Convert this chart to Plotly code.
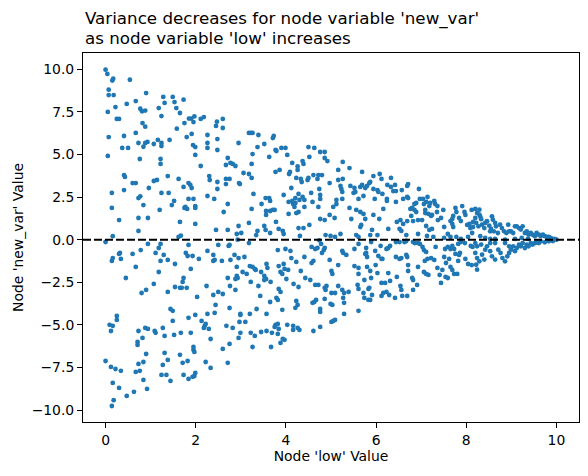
import plotly.graph_objects as go

# =========================
# DATA (grouped by region of the plot)
# =========================

# x from 0 to 2.5, upper half
low_a = [0.0,0.04,0.15,0.17,0.54,0.07,0.07,0.18,0.9,0.22,0.05,0.47,0.67,0.77,0.81,0.88,1.28,1.49,1.53,1.31,1.18,1.57,1.65,1.73,1.24,0.25,0.3,0.82,0.88,1.75,1.85,1.9,1.97,1.95,2.11,2.18,2.45,2.47,1.58,0.07,0.41,0.67,1.91,1.8,2.26,2.48,0.73,0.84,0.88,0.93,1.07,1.16,1.24,1.24,1.42,1.94,1.99,1.99,2.26,2.26,2.48,0.37,0.5,0.05,0.76,1.22,1.22,2.11,0.41,0.43,2.3,2.31,1.38,1.62,0.6,0.67,1.07,1.14,1.84,1.88,1.91,1.73,2.48,2.48,0.41,0.14,0.96,1.24,1.4,0.73,0.77,2.26,2.41,1.84,1.95,1.52,1.47,0.84,1.77,1.81,1.75,1.99,1.99,0.14,1.2,0.3,0.73,0.94,1.65,1.99,0.73,2.45,0.16,1.62,1.67]
new_var_a = [9.97,9.72,9.33,9.44,9.38,8.8,8.48,8.48,8.6,7.78,7.49,7.96,8.13,7.68,7.53,7.57,8.37,8.37,8.07,8.02,7.72,7.72,7.43,8.21,7.25,7.08,7.08,6.84,6.63,6.84,7.1,7.1,7.23,6.9,7.08,7.19,6.67,6.92,6.51,6.02,6.08,6.26,6.2,6.02,6.14,5.9,5.67,5.45,5.67,5.73,5.61,5.85,5.67,5.49,5.85,5.55,5.43,4.97,5.67,5.38,5.26,5.38,5.38,4.91,4.73,4.73,4.44,4.32,3.79,3.68,3.73,3.5,3.73,3.56,3.32,3.32,3.44,3.5,3.32,3.21,3.03,3.09,3.38,2.97,2.91,2.74,3.03,2.74,2.74,2.44,2.54,2.56,2.39,2.39,2.39,2.27,2.03,2.03,1.92,1.8,1.86,1.97,1.86,1.86,1.74,1.15,1.27,1.27,1.04,0.92,0.51,0.57,0.2,0.16,0.23]

# x from 0 to 2.5, lower half
low_b = [0.0,0.94,1.22,1.18,1.11,1.84,2.5,0.3,0.32,0.34,0.14,0.16,0.6,0.78,1.29,1.38,1.22,1.54,1.78,1.82,1.93,2.07,1.89,2.26,2.39,2.42,2.39,0.67,0.45,1.18,1.73,1.71,1.54,1.65,1.69,1.8,1.07,0.9,0.8,1.38,2.03,2.24,2.39,2.5,2.44,2.42,1.44,1.49,1.49,0.25,0.25,0.09,0.16,0.12,1.99,1.84,2.26,2.13,2.2,2.22,2.18,2.29,2.33,0.88,0.94,0.73,1.09,1.11,1.27,1.31,1.52,1.67,1.89,0.82,0.71,0.71,1.95,1.95,1.97,0.9,1.31,1.65,0.0,0.12,0.22,0.34,0.73,0.84,1.38,1.27,1.71,1.82,2.22,2.33,0.67,0.76,1.24,1.35,1.44,0.84,1.73,1.84,1.93,1.97,1.99,0.16,0.3,0.92,0.63,0.47,0.18,0.14]
new_var_b = [-0.14,-0.25,-0.25,-0.49,-0.78,-0.31,-0.31,-0.84,-0.78,-1.13,-1.25,-1.08,-0.84,-0.61,-0.9,-1.19,-1.25,-1.43,-0.78,-0.96,-0.96,-1.13,-1.72,-0.66,-0.9,-1.19,-1.25,-1.6,-2.25,-1.9,-2.25,-2.48,-2.78,-2.83,-2.83,-2.83,-2.6,-2.95,-3.13,-3.07,-3.36,-2.72,-3.25,-3.07,-3.83,-4.3,-4.07,-4.18,-4.77,-4.48,-4.71,-5.0,-5.06,-5.36,-4.42,-4.59,-4.36,-4.77,-5.06,-4.95,-5.18,-5.24,-5.83,-5.18,-5.24,-5.36,-5.36,-5.47,-5.18,-5.65,-5.59,-5.47,-5.47,-5.77,-6.0,-6.18,-6.3,-6.47,-6.59,-6.71,-6.65,-6.76,-7.12,-7.47,-7.59,-7.7,-7.29,-7.18,-7.06,-7.35,-7.23,-7.12,-7.18,-7.53,-7.76,-7.7,-7.94,-7.94,-8.29,-8.23,-7.94,-8.17,-8.05,-8.0,-7.82,-8.41,-8.7,-8.76,-8.93,-9.17,-9.42,-9.76]

# x from 2.5 to 5.3, upper half
low_c = [2.6,2.6,2.95,3.18,3.22,3.26,3.39,3.37,3.52,3.71,3.73,3.26,3.63,3.77,3.79,3.9,3.99,4.03,4.14,4.26,4.26,4.37,4.39,4.5,4.63,4.76,4.86,4.86,4.92,4.52,5.26,2.71,2.77,2.82,2.88,2.67,3.24,3.06,3.18,3.24,2.67,2.75,2.67,2.96,2.98,3.77,3.86,4.07,4.09,4.23,4.33,4.35,4.48,4.5,4.61,4.7,4.72,4.8,5.16,5.16,5.26,4.97,4.12,4.74,5.21,5.23,5.25,3.28,3.95,4.28,4.37,4.21,4.3,4.41,4.56,4.76,4.76,2.71,2.62,3.24,3.46,3.55,3.63,3.65,4.06,4.14,4.16,4.19,4.21,4.41,4.59,4.72,3.56,3.65,3.56,3.71,3.75,4.06,4.23,4.28,5.05,5.12,5.25,5.12,4.97,5.08,4.76,4.86,3.78,3.18,2.95,2.71,3.52,3.55,3.84,3.93,3.95,4.28,4.39,4.52,3.37,3.34,2.91,3.01,3.65,4.31,4.88,4.99,5.09,5.21]
new_var_c = [7.08,6.55,5.67,6.26,6.26,6.26,6.14,5.43,5.61,5.96,6.08,5.02,4.85,5.26,5.2,5.38,5.38,4.97,4.5,4.3,4.09,4.61,4.44,5.43,5.38,5.14,5.14,4.79,4.61,4.85,4.56,4.79,4.5,4.44,4.32,4.38,4.44,3.91,3.85,3.62,3.56,3.56,3.26,3.32,3.26,3.97,4.09,3.85,3.97,3.62,3.56,3.38,3.5,3.62,3.79,3.56,3.79,3.79,4.09,3.5,3.56,3.32,3.03,2.97,3.15,2.97,2.8,2.68,2.62,2.68,2.5,2.44,2.33,2.33,2.74,2.62,2.39,2.09,1.62,1.8,2.09,2.44,2.44,2.27,2.21,2.27,2.09,1.92,2.15,1.92,2.21,1.92,1.68,1.68,1.45,1.74,1.74,1.51,1.56,1.62,1.92,2.33,2.39,2.09,1.45,1.27,1.21,1.15,1.04,0.98,0.8,0.57,0.8,0.57,0.63,0.51,0.33,0.68,0.68,0.86,0.51,0.27,0.33,0.39,0.39,0.22,0.27,0.22,0.16,0.33]

# x from 2.5 to 5.3, lower half
low_d = [2.73,2.75,3.18,2.93,3.82,3.99,4.1,4.57,4.65,4.7,4.78,4.84,4.86,4.8,4.74,5.25,5.27,2.86,2.77,2.95,3.08,4.12,4.23,4.41,4.61,4.57,4.97,5.16,2.58,2.91,2.91,2.93,2.88,3.04,3.13,3.2,3.26,3.31,3.33,3.45,3.52,3.56,3.52,3.57,3.59,3.84,3.88,3.95,3.97,3.92,4.05,4.01,4.33,4.43,4.54,5.01,5.03,2.71,3.22,3.66,4.17,4.28,4.65,4.72,4.86,4.9,4.88,5.16,2.76,2.88,3.39,3.84,3.88,2.6,3.43,5.01,5.09,5.25,5.29,5.27,3.79,3.82,3.65,4.23,4.26,4.21,4.59,4.63,4.67,4.86,4.99,5.03,2.75,3.35,3.92,4.76,4.76,5.29,5.29,2.99,2.99,3.2,3.57,2.97,3.1,2.68,2.82,3.77,3.82,3.75,3.84,4.03,4.16,4.16,4.26,4.3,4.61,4.76,5.01,5.05,5.09,2.99,2.95,3.22,3.31,3.45,3.57,3.69,3.82,3.93,3.97,3.88,2.75,2.6,3.26,3.67,2.71]
new_var_d = [-0.37,-0.31,-0.2,0.0,-0.61,-0.55,-0.66,-0.43,-0.55,-0.49,-0.25,-0.61,-0.49,-0.78,-0.04,-0.66,-0.78,-0.9,-1.19,-1.08,-1.02,-1.08,-1.31,-1.02,-1.25,-1.37,-1.19,-1.49,-1.25,-1.6,-2.13,-2.25,-2.31,-1.9,-2.01,-1.55,-1.6,-1.72,-1.78,-1.9,-2.13,-2.31,-2.37,-1.43,-1.66,-1.55,-1.9,-1.43,-1.72,-2.01,-1.78,-2.31,-1.84,-2.25,-2.37,-1.84,-2.01,-2.25,-2.48,-2.48,-2.6,-2.78,-2.66,-2.66,-2.83,-2.72,-2.95,-2.72,-2.72,-2.95,-2.72,-2.89,-3.07,-3.19,-3.3,-3.13,-3.13,-2.95,-3.13,-3.42,-3.42,-3.54,-3.66,-3.6,-3.83,-4.0,-3.71,-3.66,-3.54,-3.48,-3.77,-3.83,-4.01,-4.07,-4.12,-4.07,-4.24,-3.71,-4.36,-4.36,-4.42,-4.36,-4.36,-4.83,-4.83,-5.06,-5.18,-5.0,-4.95,-5.12,-5.24,-5.0,-5.06,-5.3,-5.18,-5.3,-5.36,-5.12,-4.83,-4.77,-4.71,-5.47,-5.77,-5.47,-5.65,-5.42,-5.36,-5.47,-5.53,-5.83,-5.88,-6.06,-6.12,-6.41,-6.3,-6.3,-7.23]

# x from 5.3 to 8.2, upper half
low_e = [5.41,5.69,5.94,6.08,6.12,6.33,5.43,5.52,5.54,5.5,5.65,5.69,5.76,5.8,5.85,5.87,5.94,6.03,6.05,6.14,6.25,6.33,6.38,6.42,6.44,6.57,6.71,6.69,6.95,5.61,5.72,5.97,6.24,6.24,6.44,6.6,6.71,6.69,6.97,7.04,7.14,7.11,7.29,7.31,6.85,6.89,6.8,6.85,6.89,6.76,6.78,7.06,7.09,7.18,7.2,7.09,7.16,7.22,7.24,7.35,7.36,7.49,7.76,7.78,7.71,7.69,7.91,7.96,7.98,8.12,5.41,5.45,5.56,5.65,5.72,5.76,5.67,5.65,5.94,6.07,6.16,6.46,6.54,6.52,6.56,6.6,6.69,6.82,6.93,7.02,7.11,7.18,7.24,7.37,7.44,7.51,7.65,7.69,7.71,7.84,7.88,8.02,8.07,8.09,8.15,8.15,8.13,5.91,6.27,5.56,5.61,5.87,6.03,6.67,6.93,7.13,7.27,7.59,7.65,7.51,7.78,7.88,8.04]
new_var_e = [4.2,3.97,3.73,3.85,3.56,3.62,3.15,3.03,2.8,2.74,3.09,3.21,3.03,3.15,3.32,3.38,2.97,2.91,2.8,2.68,3.21,3.09,2.85,3.21,2.85,2.91,3.26,3.15,2.97,2.39,2.56,2.39,2.39,2.27,2.21,2.39,2.44,2.5,2.39,2.39,2.5,2.21,2.27,2.09,2.09,2.15,1.86,1.74,1.62,1.8,1.39,2.09,1.74,1.97,2.15,1.56,1.51,1.39,1.45,1.62,1.97,1.74,1.86,1.62,1.39,1.21,1.97,1.62,1.45,1.74,1.86,1.21,1.74,1.62,1.51,1.21,0.86,0.74,1.45,1.21,1.8,1.04,1.15,0.63,0.51,0.92,1.09,1.09,1.15,1.15,0.8,0.57,0.63,1.15,1.27,0.74,1.09,0.92,0.74,1.27,1.09,0.86,0.92,0.68,1.04,0.74,0.39,0.57,0.63,0.27,0.16,0.27,0.27,0.27,0.33,0.22,0.16,0.33,0.16,0.1,0.16,0.04,0.16]

# x from 5.3 to 8.2, lower half
low_f = [5.52,5.61,5.89,5.78,5.76,5.8,5.78,5.98,6.05,6.1,6.14,6.23,6.27,6.31,6.44,6.52,6.63,6.67,6.82,6.86,6.93,6.97,7.03,7.06,7.11,7.32,7.53,7.59,7.65,7.69,7.73,7.82,7.88,7.97,8.1,8.14,7.86,7.84,7.82,7.76,7.51,7.62,7.55,7.65,7.98,8.04,8.12,5.52,5.61,5.61,5.34,5.8,5.87,5.89,5.99,6.03,6.12,6.27,6.44,6.52,6.56,6.67,6.69,6.71,6.71,6.8,6.82,6.93,7.08,7.14,7.06,7.11,7.16,7.22,7.29,7.36,7.41,7.47,7.54,7.59,7.69,7.73,7.8,7.44,6.46,5.74,5.59,5.61,5.83,5.85,6.12,6.2,6.31,6.91,6.54,6.56,6.82,5.72,5.74,5.83,5.87,5.91,6.12,6.16,6.23,6.29,6.42,6.58,6.69,5.39,5.61]
new_var_f = [-0.55,-0.25,-0.14,-0.49,-0.84,-1.02,-0.78,-0.66,-0.96,-0.37,-1.13,-0.55,-0.49,-0.37,-0.14,-0.14,-0.14,-0.08,-0.14,-0.2,-0.2,-0.25,-0.43,-0.61,-0.72,-0.43,-0.55,-0.43,-0.55,-0.37,-0.55,-0.25,-0.14,-0.2,-0.37,-0.43,-0.78,-0.9,-1.25,-0.84,-1.02,-1.13,-1.37,-1.6,-1.13,-1.43,-1.49,-1.55,-1.66,-2.01,-0.9,-1.6,-1.84,-2.25,-1.49,-1.96,-1.13,-1.96,-1.02,-1.13,-1.08,-0.9,-1.02,-1.49,-1.84,-2.25,-2.37,-1.6,-1.25,-1.13,-1.9,-2.01,-2.07,-1.08,-1.19,-1.66,-2.07,-1.78,-2.19,-2.25,-1.78,-2.01,-2.01,-2.54,-2.19,-2.37,-2.66,-2.89,-2.89,-2.83,-2.54,-2.54,-2.42,-2.66,-2.72,-2.95,-2.95,-3.13,-3.42,-3.54,-3.54,-3.25,-3.3,-3.13,-3.07,-3.25,-3.42,-3.3,-3.3,-3.07,-4.18]

# x from 8.2 to 10, the narrow tail
low_g = [8.2,8.24,8.29,8.31,8.33,8.22,8.27,8.35,8.4,8.42,8.46,8.51,8.55,8.53,8.57,8.59,8.64,8.66,8.61,8.7,8.75,8.79,8.84,8.89,8.93,8.95,8.99,9.04,9.08,9.12,9.17,9.21,9.25,9.3,9.34,9.38,9.43,9.47,9.52,9.56,9.61,9.65,9.7,9.74,9.79,9.83,9.87,9.91,9.96,10.0,8.29,8.2,8.31,8.42,8.53,8.64,8.86,9.08,9.23,9.37,8.2,8.24,8.33,8.42,8.46,8.53,8.35,8.2,8.24,8.29,8.22,8.24,8.4,8.57,8.64,8.71,8.76,8.8,8.86,8.91,8.95,8.99,9.04,9.08,9.12,9.17,9.21,9.25,9.3,9.34,9.38,9.43,9.47,9.52,9.56,9.61,9.65,9.74,9.83,9.92,8.86,8.95,8.64,8.53]
new_var_g = [1.27,1.56,1.47,1.35,1.2,0.98,0.78,0.88,0.68,0.98,1.08,0.82,0.63,0.49,1.37,1.17,0.98,0.78,0.49,0.39,0.88,0.68,0.49,0.39,0.88,0.49,0.49,0.39,0.78,0.78,0.68,0.59,0.78,0.39,0.49,0.29,0.39,0.29,0.2,0.39,0.29,0.2,0.29,0.2,0.16,0.16,0.1,0.04,0.04,0.0,1.76,1.8,0.2,0.1,0.04,0.04,0.0,0.04,0.1,0.04,-0.2,-0.39,-0.29,-0.59,-0.39,-0.68,-0.88,-0.78,-1.08,-1.27,-1.47,-1.76,-1.17,-0.98,-1.17,-0.59,-0.78,-1.08,-1.27,-0.98,-0.78,-0.59,-0.39,-0.68,-0.49,-0.29,-0.39,-0.2,-0.49,-0.29,-0.39,-0.2,-0.29,-0.2,-0.16,-0.2,-0.1,-0.16,-0.1,-0.08,-0.2,-0.39,-0.2,-0.2]

x_ticks = [0, 2, 4, 6, 8, 10]
y_ticks = [-10.0, -7.5, -5.0, -2.5, 0.0, 2.5, 5.0, 7.5, 10.0]
y_tick_text = [f"{v:.1f}".replace("-", "\u2212") for v in y_ticks]

groups = [(low_a, new_var_a), (low_b, new_var_b), (low_c, new_var_c), (low_d, new_var_d),
          (low_e, new_var_e), (low_f, new_var_f), (low_g, new_var_g)]
low, new_var = [], []
for xs, ys in groups:
    assert len(xs) == len(ys), (len(xs), len(ys))
    low += xs
    new_var += ys

# =========================
# FIGURE
# =========================

FONT = "DejaVu Sans"
title_lines = ["Variance decreases for node variable 'new_var'",
               "as node variable 'low' increases"]

fig = go.Figure()
fig.add_trace(go.Scatter(
    x=low, y=new_var, mode="markers",
    marker=dict(color="#1f77b4", size=4.8, line=dict(width=0)),
    showlegend=False,
))

# dashed zero line across the whole axes
fig.add_shape(type="line", xref="paper", yref="y", x0=0, x1=1, y0=0, y1=0,
              line=dict(color="black", width=2, dash="8px,3px"))

# two-line title, one annotation per line so the spacing matches
for line, shift in zip(title_lines, [35, 15]):
    fig.add_annotation(
        text=line, xref="paper", yref="paper", x=0, y=1,
        xanchor="left", yanchor="middle", yshift=shift, showarrow=False,
        font=dict(family=FONT, size=16.7, color="black"),
    )

axis_common = dict(
    showgrid=False, zeroline=False, showline=True, linecolor="black", linewidth=1,
    mirror=True, ticks="outside", ticklen=5, tickwidth=1, tickcolor="black",
    tickfont=dict(family=FONT, size=13.9, color="black"),
)

fig.update_xaxes(
    range=[-0.5, 10.5], tickvals=x_ticks,
    title=dict(text="Node 'low' Value", font=dict(family=FONT, size=13.9, color="black"), standoff=4),
    **axis_common,
)
fig.update_yaxes(
    range=[-10.7, 10.95], tickvals=y_ticks, ticktext=y_tick_text,
    title=dict(text="Node 'new_var' Value", font=dict(family=FONT, size=13.9, color="black"), standoff=4),
    **axis_common,
)

# the page puts the figure 8px in from the top left corner
fig.update_layout(
    width=580, height=468,
    margin=dict(l=75, r=9, t=45, b=54, autoexpand=False),
    plot_bgcolor="white", paper_bgcolor="white",
    font=dict(family=FONT, color="black"),
)

fig.write_html("out.html")
